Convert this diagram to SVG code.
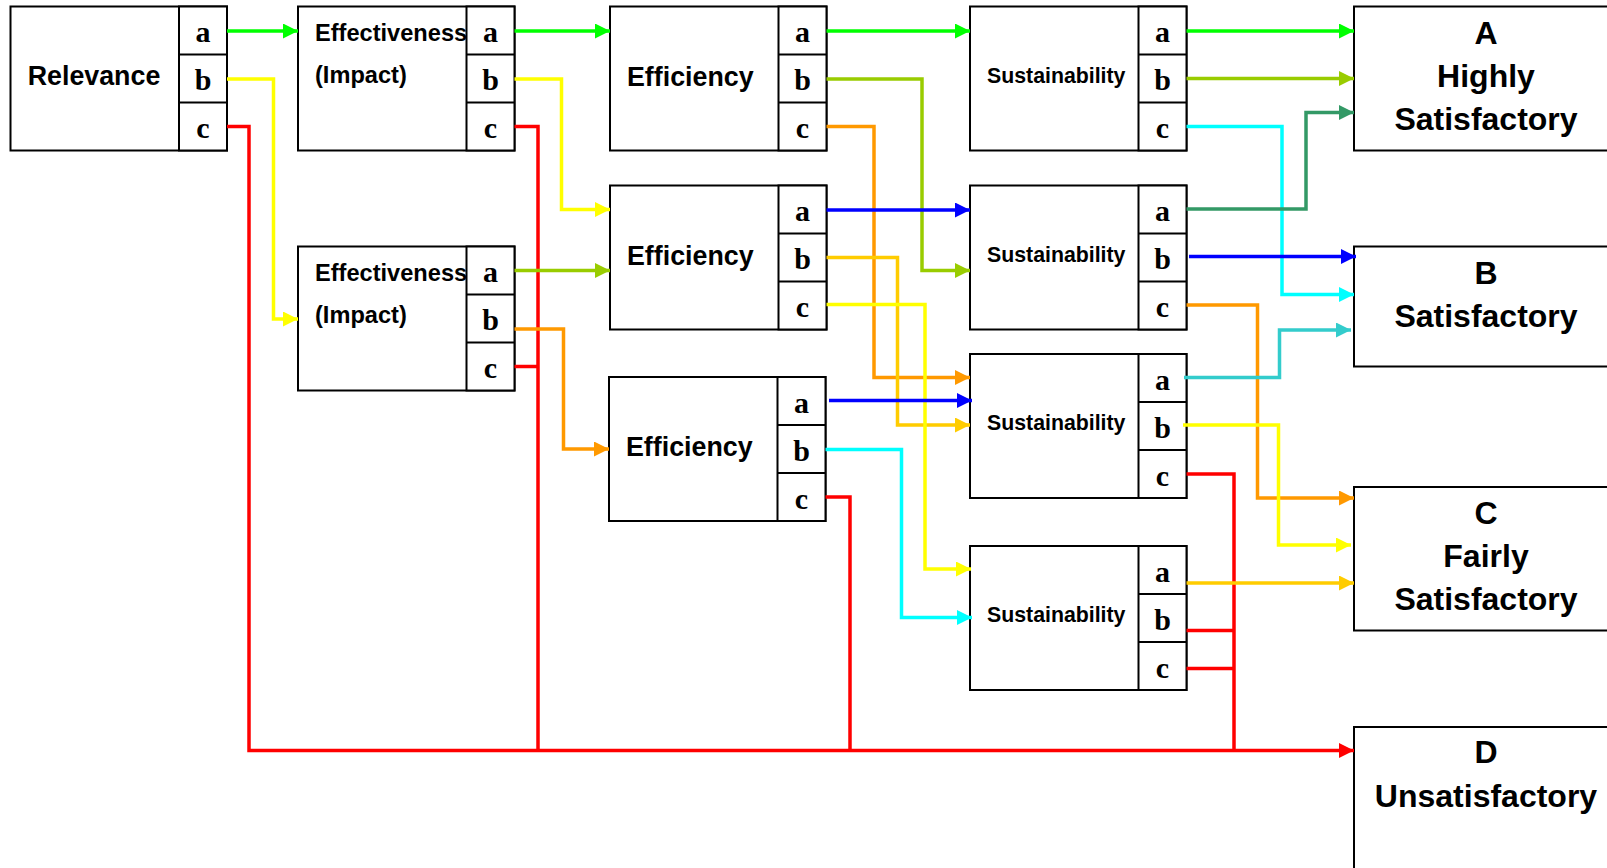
<svg xmlns="http://www.w3.org/2000/svg" width="1607" height="868" viewBox="0 0 1607 868">
<style>
.box{fill:#fff;stroke:#000;stroke-width:2}
.ln{stroke:#000;stroke-width:2}
.lbl{font-family:"Liberation Sans",Arial,sans-serif;font-weight:bold;fill:#000}
.big{font-size:26.8px}
.eff{font-size:23.6px}
.sus{font-size:21.3px}
.res{font-size:32px;text-anchor:middle}
.abc{font-family:"Liberation Serif","Times New Roman",serif;font-weight:bold;font-size:30px;text-anchor:middle;fill:#000}
.c{fill:none;stroke-width:3.5;stroke-linejoin:miter}
.green{stroke:#00FF00}.yellow{stroke:#FFFF00}.red{stroke:#FF0000}.olive{stroke:#99CC00}
.orange{stroke:#FF9900}.blue{stroke:#0000FF}.gold{stroke:#FFCC00}.cyan{stroke:#00FFFF}
.sea{stroke:#339966}.teal{stroke:#33CCCC}
</style>
<defs>
<marker id="m-green" viewBox="0 0 10 10" refX="10" refY="5" markerUnits="userSpaceOnUse" markerWidth="15" markerHeight="15" orient="auto"><path d="M0,0 L10,5 L0,10 z" fill="#00FF00"/></marker>
<marker id="m-yellow" viewBox="0 0 10 10" refX="10" refY="5" markerUnits="userSpaceOnUse" markerWidth="15" markerHeight="15" orient="auto"><path d="M0,0 L10,5 L0,10 z" fill="#FFFF00"/></marker>
<marker id="m-red" viewBox="0 0 10 10" refX="10" refY="5" markerUnits="userSpaceOnUse" markerWidth="15" markerHeight="15" orient="auto"><path d="M0,0 L10,5 L0,10 z" fill="#FF0000"/></marker>
<marker id="m-olive" viewBox="0 0 10 10" refX="10" refY="5" markerUnits="userSpaceOnUse" markerWidth="15" markerHeight="15" orient="auto"><path d="M0,0 L10,5 L0,10 z" fill="#99CC00"/></marker>
<marker id="m-orange" viewBox="0 0 10 10" refX="10" refY="5" markerUnits="userSpaceOnUse" markerWidth="15" markerHeight="15" orient="auto"><path d="M0,0 L10,5 L0,10 z" fill="#FF9900"/></marker>
<marker id="m-blue" viewBox="0 0 10 10" refX="10" refY="5" markerUnits="userSpaceOnUse" markerWidth="15" markerHeight="15" orient="auto"><path d="M0,0 L10,5 L0,10 z" fill="#0000FF"/></marker>
<marker id="m-gold" viewBox="0 0 10 10" refX="10" refY="5" markerUnits="userSpaceOnUse" markerWidth="15" markerHeight="15" orient="auto"><path d="M0,0 L10,5 L0,10 z" fill="#FFCC00"/></marker>
<marker id="m-cyan" viewBox="0 0 10 10" refX="10" refY="5" markerUnits="userSpaceOnUse" markerWidth="15" markerHeight="15" orient="auto"><path d="M0,0 L10,5 L0,10 z" fill="#00FFFF"/></marker>
<marker id="m-sea" viewBox="0 0 10 10" refX="10" refY="5" markerUnits="userSpaceOnUse" markerWidth="15" markerHeight="15" orient="auto"><path d="M0,0 L10,5 L0,10 z" fill="#339966"/></marker>
<marker id="m-teal" viewBox="0 0 10 10" refX="10" refY="5" markerUnits="userSpaceOnUse" markerWidth="15" markerHeight="15" orient="auto"><path d="M0,0 L10,5 L0,10 z" fill="#33CCCC"/></marker>
</defs>
<rect width="1607" height="868" fill="#fff"/>

<g id="relevance">
<rect class="box" x="10.5" y="6.5" width="216.5" height="144"/>
<rect class="box" x="179" y="6.5" width="48" height="144"/>
<line class="ln" x1="179" y1="54.5" x2="227" y2="54.5"/><line class="ln" x1="179" y1="102.5" x2="227" y2="102.5"/>
<text class="lbl big" x="94" y="85" text-anchor="middle">Relevance</text>
<text class="abc" x="203" y="42">a</text><text class="abc" x="203" y="90">b</text><text class="abc" x="203" y="138">c</text>
</g>

<g id="effectiveness-1">
<rect class="box" x="298" y="6.5" width="216.5" height="144"/>
<text class="lbl eff" x="315" y="41">Effectiveness</text>
<text class="lbl eff" x="315" y="83">(Impact)</text>
<rect class="box" x="466.5" y="6.5" width="48" height="144"/>
<line class="ln" x1="466.5" y1="54.5" x2="514.5" y2="54.5"/><line class="ln" x1="466.5" y1="102.5" x2="514.5" y2="102.5"/>
<text class="abc" x="490.5" y="42">a</text><text class="abc" x="490.5" y="90">b</text><text class="abc" x="490.5" y="138">c</text>
</g>

<g id="effectiveness-2">
<rect class="box" x="298" y="246.5" width="216.5" height="144"/>
<text class="lbl eff" x="315" y="281">Effectiveness</text>
<text class="lbl eff" x="315" y="323">(Impact)</text>
<rect class="box" x="466.5" y="246.5" width="48" height="144"/>
<line class="ln" x1="466.5" y1="294.5" x2="514.5" y2="294.5"/><line class="ln" x1="466.5" y1="342.5" x2="514.5" y2="342.5"/>
<text class="abc" x="490.5" y="282">a</text><text class="abc" x="490.5" y="330">b</text><text class="abc" x="490.5" y="378">c</text>
</g>

<g id="efficiency-1">
<rect class="box" x="610" y="6.5" width="216.5" height="144"/>
<text class="lbl big" x="627" y="85.5">Efficiency</text>
<rect class="box" x="778.5" y="6.5" width="48" height="144"/>
<line class="ln" x1="778.5" y1="54.5" x2="826.5" y2="54.5"/><line class="ln" x1="778.5" y1="102.5" x2="826.5" y2="102.5"/>
<text class="abc" x="802.5" y="42">a</text><text class="abc" x="802.5" y="90">b</text><text class="abc" x="802.5" y="138">c</text>
</g>

<g id="efficiency-2">
<rect class="box" x="610" y="185.5" width="216.5" height="144"/>
<text class="lbl big" x="627" y="264.5">Efficiency</text>
<rect class="box" x="778.5" y="185.5" width="48" height="144"/>
<line class="ln" x1="778.5" y1="233.5" x2="826.5" y2="233.5"/><line class="ln" x1="778.5" y1="281.5" x2="826.5" y2="281.5"/>
<text class="abc" x="802.5" y="221">a</text><text class="abc" x="802.5" y="269">b</text><text class="abc" x="802.5" y="317">c</text>
</g>

<g id="efficiency-3">
<rect class="box" x="609" y="377" width="216.5" height="144"/>
<text class="lbl big" x="626" y="456">Efficiency</text>
<rect class="box" x="777.5" y="377" width="48" height="144"/>
<line class="ln" x1="777.5" y1="425" x2="825.5" y2="425"/><line class="ln" x1="777.5" y1="473" x2="825.5" y2="473"/>
<text class="abc" x="801.5" y="412.5">a</text><text class="abc" x="801.5" y="460.5">b</text><text class="abc" x="801.5" y="508.5">c</text>
</g>

<g id="sustainability-1">
<rect class="box" x="970" y="6.5" width="216.5" height="144"/>
<text class="lbl sus" x="987" y="83">Sustainability</text>
<rect class="box" x="1138.5" y="6.5" width="48" height="144"/>
<line class="ln" x1="1138.5" y1="54.5" x2="1186.5" y2="54.5"/><line class="ln" x1="1138.5" y1="102.5" x2="1186.5" y2="102.5"/>
<text class="abc" x="1162.5" y="42">a</text><text class="abc" x="1162.5" y="90">b</text><text class="abc" x="1162.5" y="138">c</text>
</g>

<g id="sustainability-2">
<rect class="box" x="970" y="185.5" width="216.5" height="144"/>
<text class="lbl sus" x="987" y="262">Sustainability</text>
<rect class="box" x="1138.5" y="185.5" width="48" height="144"/>
<line class="ln" x1="1138.5" y1="233.5" x2="1186.5" y2="233.5"/><line class="ln" x1="1138.5" y1="281.5" x2="1186.5" y2="281.5"/>
<text class="abc" x="1162.5" y="221">a</text><text class="abc" x="1162.5" y="269">b</text><text class="abc" x="1162.5" y="317">c</text>
</g>

<g id="sustainability-3">
<rect class="box" x="970" y="354" width="216.5" height="144"/>
<text class="lbl sus" x="987" y="430">Sustainability</text>
<rect class="box" x="1138.5" y="354" width="48" height="144"/>
<line class="ln" x1="1138.5" y1="402" x2="1186.5" y2="402"/><line class="ln" x1="1138.5" y1="450" x2="1186.5" y2="450"/>
<text class="abc" x="1162.5" y="389.5">a</text><text class="abc" x="1162.5" y="437.5">b</text><text class="abc" x="1162.5" y="485.5">c</text>
</g>

<g id="sustainability-4">
<rect class="box" x="970" y="546" width="216.5" height="144"/>
<text class="lbl sus" x="987" y="622">Sustainability</text>
<rect class="box" x="1138.5" y="546" width="48" height="144"/>
<line class="ln" x1="1138.5" y1="594" x2="1186.5" y2="594"/><line class="ln" x1="1138.5" y1="642" x2="1186.5" y2="642"/>
<text class="abc" x="1162.5" y="581.5">a</text><text class="abc" x="1162.5" y="629.5">b</text><text class="abc" x="1162.5" y="677.5">c</text>
</g>

<g id="rating-a">
<rect class="box" x="1354" y="6.5" width="280" height="144"/>
<text class="lbl res" x="1486" y="43.5">A</text>
<text class="lbl res" x="1486" y="87">Highly</text>
<text class="lbl res" x="1486" y="130">Satisfactory</text>
</g>
<g id="rating-b">
<rect class="box" x="1354" y="246.5" width="280" height="120"/>
<text class="lbl res" x="1486" y="283.5">B</text>
<text class="lbl res" x="1486" y="326.5">Satisfactory</text>
</g>
<g id="rating-c">
<rect class="box" x="1354" y="487" width="280" height="143.5"/>
<text class="lbl res" x="1486" y="523.5">C</text>
<text class="lbl res" x="1486" y="566.5">Fairly</text>
<text class="lbl res" x="1486" y="610">Satisfactory</text>
</g>
<g id="rating-d">
<rect class="box" x="1354" y="727" width="280" height="180"/>
<text class="lbl res" x="1486" y="763">D</text>
<text class="lbl res" x="1486" y="806.5">Unsatisfactory</text>
</g>

<g id="connectors">
<path class="c green" d="M227,31 H298" marker-end="url(#m-green)"/>
<path class="c yellow" d="M227,79 H273.5 V319 H298" marker-end="url(#m-yellow)"/>
<path class="c red" d="M227,126.5 H249 V750.5 H1354" marker-end="url(#m-red)"/>
<path class="c green" d="M514.5,31 H610" marker-end="url(#m-green)"/>
<path class="c yellow" d="M514.5,79 H561.5 V209.5 H610" marker-end="url(#m-yellow)"/>
<path class="c red" d="M514.5,126.5 H538 V750.5"/>
<path class="c olive" d="M514.5,270.5 H610" marker-end="url(#m-olive)"/>
<path class="c orange" d="M514.5,329 H563.5 V449 H609" marker-end="url(#m-orange)"/>
<path class="c red" d="M514.5,366.5 H538"/>
<path class="c green" d="M826.5,31 H970" marker-end="url(#m-green)"/>
<path class="c olive" d="M826.5,79 H922 V270.5 H970" marker-end="url(#m-olive)"/>
<path class="c orange" d="M826.5,126.5 H874 V377.5 H970" marker-end="url(#m-orange)"/>
<path class="c blue" d="M826.5,210 H970" marker-end="url(#m-blue)"/>
<path class="c gold" d="M826.5,257.5 H897.5 V425 H970" marker-end="url(#m-gold)"/>
<path class="c yellow" d="M826.5,304.5 H925 V569 H971" marker-end="url(#m-yellow)"/>
<path class="c blue" d="M829,400.5 H972" marker-end="url(#m-blue)"/>
<path class="c cyan" d="M825.5,449.5 H901.5 V617.5 H972" marker-end="url(#m-cyan)"/>
<path class="c red" d="M825.5,497 H850 V750.5"/>
<path class="c green" d="M1186.5,31 H1354" marker-end="url(#m-green)"/>
<path class="c olive" d="M1186.5,78.5 H1354" marker-end="url(#m-olive)"/>
<path class="c cyan" d="M1186.5,126.5 H1282 V294.5 H1354" marker-end="url(#m-cyan)"/>
<path class="c sea" d="M1186.5,209 H1306 V112.5 H1354" marker-end="url(#m-sea)"/>
<path class="c blue" d="M1189,256.5 H1356" marker-end="url(#m-blue)"/>
<path class="c orange" d="M1186.5,305 H1257.5 V498 H1354" marker-end="url(#m-orange)"/>
<path class="c teal" d="M1184,377.5 H1279.5 V330 H1351" marker-end="url(#m-teal)"/>
<path class="c yellow" d="M1183,425 H1278.5 V545 H1351" marker-end="url(#m-yellow)"/>
<path class="c red" d="M1186.5,474 H1234 V750.5"/>
<path class="c gold" d="M1186.5,583 H1354" marker-end="url(#m-gold)"/>
<path class="c red" d="M1186.5,630.5 H1234"/>
<path class="c red" d="M1186.5,668.5 H1234"/>
</g>
</svg>
